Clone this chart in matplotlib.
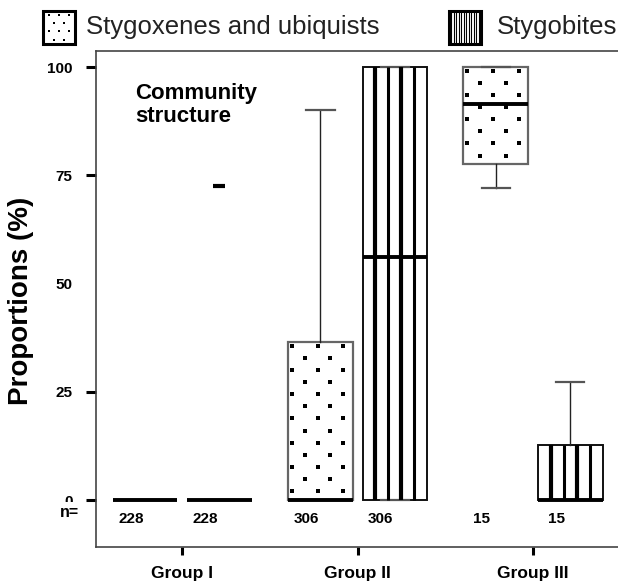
import numpy as np
import matplotlib.pyplot as plt
from matplotlib.patches import Rectangle

plt.rcParams['font.family'] = ['Liberation Sans', 'DejaVu Sans']

groups = ["Group I", "Group II", "Group III"]
n_sites = [228, 306, 15]

# stygoxenes and ubiquists (dotted boxes)
xeno_q1 = [0, 0, 77.5]
xeno_med = [0, 0, 91.5]
xeno_q3 = [0, 36.5, 100]
xeno_lo = [0, 0, 72]
xeno_hi = [0, 90, 100]

# stygobites (striped boxes)
bite_q1 = [0, 0, 0]
bite_med = [0, 56.2, 0]
bite_q3 = [0, 100, 12.6]
bite_lo = [0, 0, 0]
bite_hi = [0, 100, 27.2]
bite_out = [[72.5], [], []]

yticks = [0, 25, 50, 75, 100]

gap = 2.355
w = 0.87
pos_xeno = [g * gap for g in range(3)]
pos_bite = [g * gap + 1 for g in range(3)]

fig = plt.figure(figsize=(6.18, 5.83), dpi=100)
ax = fig.add_axes([96/618, 36/583, 522/618, 496/583])


def stats(q1, med, q3, lo, hi, out):
    return [dict(q1=q1[i], med=med[i], q3=q3[i], whislo=lo[i], whishi=hi[i], fliers=out[i])
            for i in range(len(q1))]


common = dict(widths=w, patch_artist=True, capwidths=0.38,
              medianprops=dict(color='black', linewidth=2.8, solid_capstyle='butt', zorder=4),
              whiskerprops=dict(color='#222222', linewidth=1.0),
              capprops=dict(color='#555555', linewidth=1.6),
              flierprops=dict(marker='_', markersize=9, markeredgewidth=3, markeredgecolor='black'))

bx = ax.bxp(stats(xeno_q1, xeno_med, xeno_q3, xeno_lo, xeno_hi, [[], [], []]),
            positions=pos_xeno,
            boxprops=dict(facecolor='white', edgecolor='#666666', linewidth=1.6), **common)
bb = ax.bxp(stats(bite_q1, bite_med, bite_q3, bite_lo, bite_hi, bite_out),
            positions=pos_bite,
            boxprops=dict(facecolor='white', edgecolor='#111111', linewidth=1.4), **common)

# dot fill for the stygoxene boxes
for p, lo, hi in zip(pos_xeno, xeno_q1, xeno_q3):
    if hi - lo <= 0:
        continue
    left = p - w / 2
    xs, ys = [], []
    j = 0
    y = hi - 0.92
    while y > lo + 0.5:
        if j % 2 == 0:
            cols = [left + 0.054 + k * 0.344 for k in range(3)]
        else:
            cols = [left + 0.054 + 0.172 + k * 0.344 for k in range(2)]
        xs += cols
        ys += [y] * len(cols)
        j += 1
        y -= 2.79
    ax.scatter(xs, ys, marker='s', s=6, color='black', linewidths=0, zorder=3)

# vertical stripes for the stygobite boxes
for p, lo, hi in zip(pos_bite, bite_q1, bite_q3):
    if hi - lo <= 0:
        continue
    left = p - w / 2
    for i, lw in zip(range(1, 5), [3.0, 2.2, 3.0, 2.2]):
        ax.plot([left + w * i / 5] * 2, [lo, hi], color='black', lw=lw,
                solid_capstyle='butt', zorder=3)

ax.set_xlim(-0.658, 6.35)
ax.set_ylim(-10.85, 103.7)
ax.set_yticks(yticks)
ax.set_yticklabels([str(t) for t in yticks], fontweight='bold')
ax.yaxis.get_major_ticks()[2].tick1line.set_visible(False)
ax.set_xticks([g * gap + 0.5 for g in range(3)])
ax.set_xticklabels(groups, fontweight='bold')
ax.tick_params(axis='y', direction='out', length=7, width=2.2, labelsize=11, pad=10)
ax.tick_params(axis='x', direction='out', length=6, width=2.2, labelsize=12.5, pad=8)

for s in ['left', 'top', 'bottom']:
    ax.spines[s].set_color('#444444')
    ax.spines[s].set_linewidth(1.2)
ax.spines['right'].set_visible(False)

ax.set_ylabel('Proportions (%)', fontsize=20, fontweight='bold')
ax.yaxis.set_label_coords(-0.118, 0.496)

# sample sizes under each box
for p, n in zip(pos_xeno + pos_bite, n_sites + n_sites):
    ax.text(p - 0.19, -4.3, str(n), ha='center', va='center', fontsize=11, fontweight='bold')
ax.text(-0.033, -2.8, 'n=', transform=ax.get_yaxis_transform(), ha='right', va='center',
        fontsize=11.5, fontweight='bold', zorder=5,
        bbox=dict(facecolor='white', edgecolor='none', pad=2.2))

ax.text(0.075, 0.935, 'Community\nstructure', transform=ax.transAxes, ha='left', va='top',
        fontsize=16, fontweight='bold', linespacing=1.1)

# legend keys drawn by hand
k1 = fig.add_axes([43/618, 1 - 44/583, 32/618, 33/583])
k1.axis('off')
k1.set_xlim(0, 1)
k1.set_ylim(0, 1)
k1.add_patch(Rectangle((0, 0), 1, 1, facecolor='white', edgecolor='black', lw=2.2, clip_on=False))
kx, ky = [], []
for j, yy in enumerate([0.88, 0.63, 0.38, 0.13]):
    cols = [0.2, 0.5, 0.8] if j % 2 == 0 else [0.35, 0.65]
    kx += cols
    ky += [yy] * len(cols)
k1.scatter(kx, ky, marker='s', s=1.5, color='black', linewidths=0)

k2 = fig.add_axes([449/618, 1 - 44/583, 32/618, 33/583])
k2.axis('off')
k2.set_xlim(0, 1)
k2.set_ylim(0, 1)
k2.add_patch(Rectangle((0, 0), 1, 1, facecolor='white', edgecolor='black', lw=2.2, clip_on=False))
for xx in np.linspace(0, 1, 14)[1:-1]:
    k2.plot([xx, xx], [0, 1], color='black', lw=0.8)

fig.text(86/618, 1 - 27/583, 'Stygoxenes and ubiquists', fontsize=18.5, va='center', color='#222222')
fig.text(497/618, 1 - 27/583, 'Stygobites', fontsize=18.5, va='center', color='#222222')

fig.savefig('out.png', dpi=100)
